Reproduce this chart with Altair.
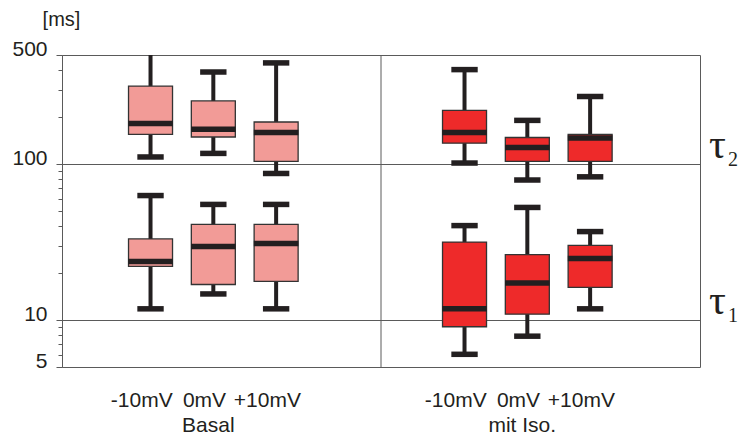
import altair as alt
import pandas as pd

# ---------------- data ----------------
groups = ["Basal", "mit Iso."]
voltages = ["-10mV", "0mV", "+10mV"]
taus = ["tau1", "tau2"]

basal_tau2_min = [111, 117, 87]
basal_tau2_q1 = [155, 149, 104]
basal_tau2_med = [182, 167, 159]
basal_tau2_q3 = [316, 254, 186]
basal_tau2_max = [560, 389, 445]

basal_tau1_min = [11.8, 14.7, 11.8]
basal_tau1_q1 = [22.1, 16.9, 17.7]
basal_tau1_med = [23.7, 29.6, 31.0]
basal_tau1_q3 = [33.1, 41.1, 41.1]
basal_tau1_max = [62.8, 55.1, 55.1]

iso_tau2_min = [101.5, 79, 82.8]
iso_tau2_q1 = [136, 104, 104]
iso_tau2_med = [159, 127.5, 147]
iso_tau2_q3 = [221, 148, 155]
iso_tau2_max = [403, 190.5, 271]

iso_tau1_min = [6.03, 7.88, 11.8]
iso_tau1_q1 = [9.06, 10.9, 16.2]
iso_tau1_med = [11.8, 17.3, 24.8]
iso_tau1_q3 = [31.6, 26.3, 30.1]
iso_tau1_max = [40.3, 52.7, 36.9]

y_major = [5, 10, 100, 500]
y_ticks = [5, 6, 7, 8, 9, 10, 20, 30, 40, 50, 60, 70, 80, 90, 100, 200, 300, 400, 500]

group_colors = ["#F29B97", "#EE2A2A"]
ink = "#231F20"
frame = "#5a5a5a"

series = {
    ("Basal", "tau1"): (basal_tau1_min, basal_tau1_q1, basal_tau1_med, basal_tau1_q3, basal_tau1_max),
    ("Basal", "tau2"): (basal_tau2_min, basal_tau2_q1, basal_tau2_med, basal_tau2_q3, basal_tau2_max),
    ("mit Iso.", "tau1"): (iso_tau1_min, iso_tau1_q1, iso_tau1_med, iso_tau1_q3, iso_tau1_max),
    ("mit Iso.", "tau2"): (iso_tau2_min, iso_tau2_q1, iso_tau2_med, iso_tau2_q3, iso_tau2_max),
}

rows = []
for g, gname in enumerate(groups):
    for tname in taus:
        mn, q1, md, q3, mx = series[(gname, tname)]
        for i, v in enumerate(voltages):
            pos = 5 * g + 1.33 + i
            rows.append(dict(group=gname, tau=tname, voltage=v, pos=pos,
                             lo=pos - 0.355, hi=pos + 0.355,
                             clo=pos - 0.21, chi=pos + 0.21,
                             vmin=mn[i], q1=q1[i], med=md[i], q3=q3[i], vmax=mx[i]))
df = pd.DataFrame(rows)

# ---------------- scales / axes ----------------
xscale = alt.Scale(domain=[0, 10], nice=False, zero=False)
yscale = alt.Scale(type="log", domain=[5, 500], nice=False)
major_test = "indexof([5, 10, 100, 500], datum.value) >= 0"
yaxis = alt.Axis(
    values=y_ticks,
    labelExpr=f"{major_test} ? format(datum.value, 'd') : ''",
    title="[ms]", titleAngle=0, titleAlign="center", titleBaseline="alphabetic",
    titleX=-1, titleY=-30, titleFont="Liberation Sans", titleFontSize=20,
    titleFontWeight="normal", titleColor=ink,
    labelFont="Liberation Sans", labelFontSize=21, labelColor=ink,
    labelBaseline="alphabetic", labelFlush=False, labelOverlap=False, labelPadding=9,
    tickSize={"condition": {"test": major_test, "value": 6}, "value": 4},
    tickColor=frame, domainColor=frame,
    grid=True, gridColor=frame, gridWidth=1,
    gridOpacity={"condition": {"test": "datum.value == 10 || datum.value == 100", "value": 1}, "value": 0},
)


def Y(field):
    return alt.Y(f"{field}:Q", scale=yscale, axis=yaxis)


base = alt.Chart(df)
X = alt.X("pos:Q", scale=xscale, axis=None)

divider = alt.Chart(pd.DataFrame({"x": [5]})).mark_rule(color=frame, strokeWidth=1).encode(
    x=alt.X("x:Q", scale=xscale, axis=None))

whisk = base.mark_rule(color=ink, strokeWidth=4, clip=True).encode(x=X, y=Y("vmin"), y2="vmax:Q")

boxes = base.mark_bar(size=44, stroke="#333333", strokeWidth=1.3, clip=True).encode(
    x=X, y=Y("q1"), y2="q3:Q",
    color=alt.Color("group:N", scale=alt.Scale(domain=groups, range=group_colors), legend=None))

medians = base.mark_rule(color=ink, strokeWidth=5.5, clip=True).encode(
    x=alt.X("lo:Q", scale=xscale, axis=None), x2="hi:Q", y=Y("med"))

cap_lo = base.mark_rule(color=ink, strokeWidth=5.5, clip=True).encode(
    x=alt.X("clo:Q", scale=xscale, axis=None), x2="chi:Q", y=Y("vmin"))
cap_hi = base.mark_rule(color=ink, strokeWidth=5.5, clip=True).encode(
    x=alt.X("clo:Q", scale=xscale, axis=None), x2="chi:Q", y=Y("vmax"))

# category labels
volt_df = df[df["tau"] == "tau1"][["pos", "voltage"]].copy()
volt_df["x"] = volt_df["pos"] - 0.14
grp_df = pd.DataFrame({"x": [5 * g + 2.25 for g in range(len(groups))], "group": groups})

volt_text = alt.Chart(volt_df).mark_text(font="Liberation Sans", fontSize=21, color=ink,
                                         baseline="alphabetic", align="center").encode(
    x=alt.X("x:Q", scale=xscale, axis=None), y=alt.value(352), text="voltage:N")
group_text = alt.Chart(grp_df).mark_text(font="Liberation Sans", fontSize=21, color=ink,
                                         baseline="alphabetic", align="center").encode(
    x=alt.X("x:Q", scale=xscale, axis=None), y=alt.value(377), text="group:N")

# tau labels
tau_df = pd.DataFrame({"y": [100, 10], "sym": ["τ", "τ"], "sub": ["2", "1"]})
tau_text = alt.Chart(tau_df).mark_text(font="Liberation Serif", fontSize=42, color=ink,
                                       baseline="alphabetic", align="left", dy=-6).encode(
    x=alt.value(647), y=alt.Y("y:Q", scale=yscale, axis=yaxis), text="sym:N")
sub_text = alt.Chart(tau_df).mark_text(font="Liberation Serif", fontSize=20, color=ink,
                                       baseline="alphabetic", align="left", dy=2).encode(
    x=alt.value(666), y=alt.Y("y:Q", scale=yscale, axis=yaxis), text="sub:N")

chart = alt.layer(divider, whisk, boxes, medians, cap_lo, cap_hi,
                  volt_text, group_text, tau_text, sub_text).properties(
    width=638, height=312,
    autosize=alt.AutoSizeParams(type="none"),
    padding={"left": 62, "top": 55, "right": 39, "bottom": 72},
    background="white",
).configure_view(stroke=frame, strokeWidth=1)

chart.save("out.html", embed_options={"renderer": "svg", "actions": False})
